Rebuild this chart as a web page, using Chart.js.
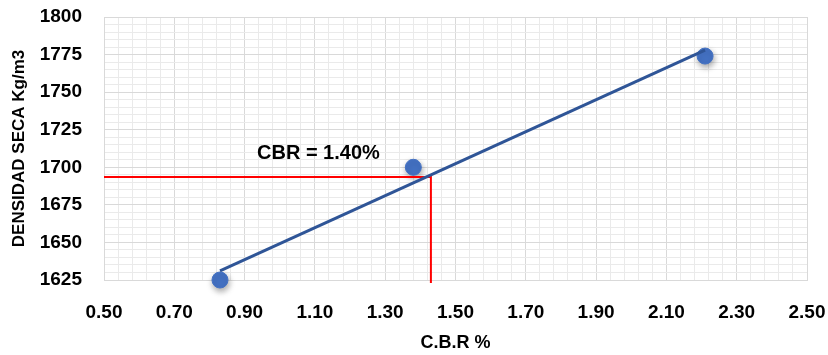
<!DOCTYPE html>
<html>
<head>
<meta charset="utf-8">
<script src="https://cdn.jsdelivr.net/npm/chart.js@4/dist/chart.umd.min.js"></script>
<style>
html,body{margin:0;padding:0;background:#fff;}
#wrap{width:828px;height:355px;position:relative;}
</style>
</head>
<body>
<div id="wrap"><canvas id="c" width="828" height="355"></canvas></div>
<script>
// Measured points
const cbrValues = [0.83, 1.38, 2.21];
const densityValues = [1625, 1700, 1774];
// Linear trend line endpoints
const trendX = [0.83, 2.21];
const trendY = [1631, 1778];
// Red guide lines (CBR reading)
const guideX = [0.5, 1.43, 1.43];
const guideY = [1693.5, 1693.5, 1623];
// Annotation
const labelText = 'CBR = 1.40%';
const labelX = 1.11;
const labelY = 1709;
// Axis ranges / ticks
const xMin = 0.5, xMax = 2.5, xStep = 0.2, xMinorStep = 0.04;
const yMin = 1625, yMax = 1800, yStep = 25, yMinorStep = 5;
const xTitle = 'C.B.R %';
const yTitle = 'DENSIDAD SECA Kg/m3';

const FONT = '"Liberation Sans", Arial, sans-serif';
const pts = (xs, ys) => xs.map((x, i) => ({x: x, y: ys[i]}));

const isMajor = (v, step, base) => {
  const r = (v - base) / step;
  return Math.abs(r - Math.round(r)) < 1e-6;
};
const noPad = s => { s.paddingTop = 0; s.paddingBottom = 0; s.paddingLeft = 0; s.paddingRight = 0; };

const shadowPlugin = {
  id: 'shadow',
  beforeDatasetDraw(chart, args) {
    if (args.index === 0) {
      const ctx = chart.ctx;
      ctx.save();
      ctx.shadowColor = 'rgba(0,0,0,0.35)';
      ctx.shadowBlur = 6;
      ctx.shadowOffsetX = 1;
      ctx.shadowOffsetY = 3;
    }
  },
  afterDatasetDraw(chart, args) {
    if (args.index === 0) chart.ctx.restore();
  }
};

const labelPlugin = {
  id: 'cbrLabel',
  afterDatasetsDraw(chart) {
    const ctx = chart.ctx;
    const x = chart.scales.x.getPixelForValue(labelX);
    const y = chart.scales.y.getPixelForValue(labelY);
    ctx.save();
    ctx.font = 'bold 20px ' + FONT;
    ctx.fillStyle = '#000';
    ctx.textAlign = 'center';
    ctx.textBaseline = 'middle';
    ctx.fillText(labelText, x, y);
    ctx.restore();
  }
};

new Chart(document.getElementById('c'), {
  type: 'scatter',
  data: {
    datasets: [
      {
        data: pts(cbrValues, densityValues),
        backgroundColor: '#4472C4',
        borderColor: '#4472C4',
        pointRadius: 8,
        pointHoverRadius: 8,
        showLine: false,
        clip: false,
        order: 2
      },
      {
        data: pts(guideX, guideY),
        showLine: true,
        borderColor: '#FF0000',
        borderWidth: 2,
        pointRadius: 0,
        fill: false,
        clip: false,
        order: 1
      },
      {
        data: pts(trendX, trendY),
        showLine: true,
        borderColor: '#2F5597',
        borderWidth: 3,
        pointRadius: 0,
        fill: false,
        order: 0
      }
    ]
  },
  options: {
    responsive: false,
    animation: false,
    devicePixelRatio: 1,
    layout: { autoPadding: false, padding: { top: 17, right: 21, left: 0, bottom: 0 } },
    plugins: { legend: { display: false }, tooltip: { enabled: false } },
    scales: {
      x: {
        type: 'linear', position: 'bottom',
        min: xMin, max: xMax,
        ticks: {
          stepSize: xStep, padding: 21, color: '#000',
          font: { family: FONT, size: 19, weight: 'bold' },
          maxRotation: 0,
          callback: v => Number(v).toFixed(2)
        },
        grid: { color: '#D9D9D9', lineWidth: 1, drawTicks: false },
        border: { color: '#D9D9D9' },
        title: { display: true, text: xTitle, color: '#000',
          font: { family: FONT, size: 18, weight: 'bold' }, padding: { top: 0, bottom: 1 } },
        afterFit: s => { s.height = 75; noPad(s); }
      },
      x2: {
        type: 'linear', position: 'bottom',
        min: xMin, max: xMax,
        ticks: { display: false, stepSize: xMinorStep },
        grid: { drawTicks: false, lineWidth: 1,
          color: c => (c.tick && isMajor(c.tick.value, xStep, xMin)) ? 'rgba(0,0,0,0)' : '#EAEAEA' },
        border: { display: false },
        afterFit: s => { s.height = 0; noPad(s); }
      },
      y: {
        type: 'linear', position: 'left',
        min: yMin, max: yMax,
        ticks: {
          stepSize: yStep, padding: 22, color: '#000',
          font: { family: FONT, size: 19, weight: 'bold' },
          callback: v => String(v)
        },
        grid: { color: '#D9D9D9', lineWidth: 1, drawTicks: false },
        border: { color: '#D9D9D9' },
        title: { display: true, text: yTitle, color: '#000',
          font: { family: FONT, size: 17, weight: 'bold' }, padding: { top: 9, bottom: 0 } },
        afterFit: s => { s.width = 104; noPad(s); }
      },
      y2: {
        type: 'linear', position: 'left',
        min: yMin, max: yMax,
        ticks: { display: false, stepSize: yMinorStep },
        grid: { drawTicks: false, lineWidth: 1,
          color: c => (c.tick && isMajor(c.tick.value, yStep, yMin)) ? 'rgba(0,0,0,0)' : '#EAEAEA' },
        border: { display: false },
        afterFit: s => { s.width = 0; noPad(s); }
      }
    }
  },
  plugins: [shadowPlugin, labelPlugin]
});
</script>
</body>
</html>
